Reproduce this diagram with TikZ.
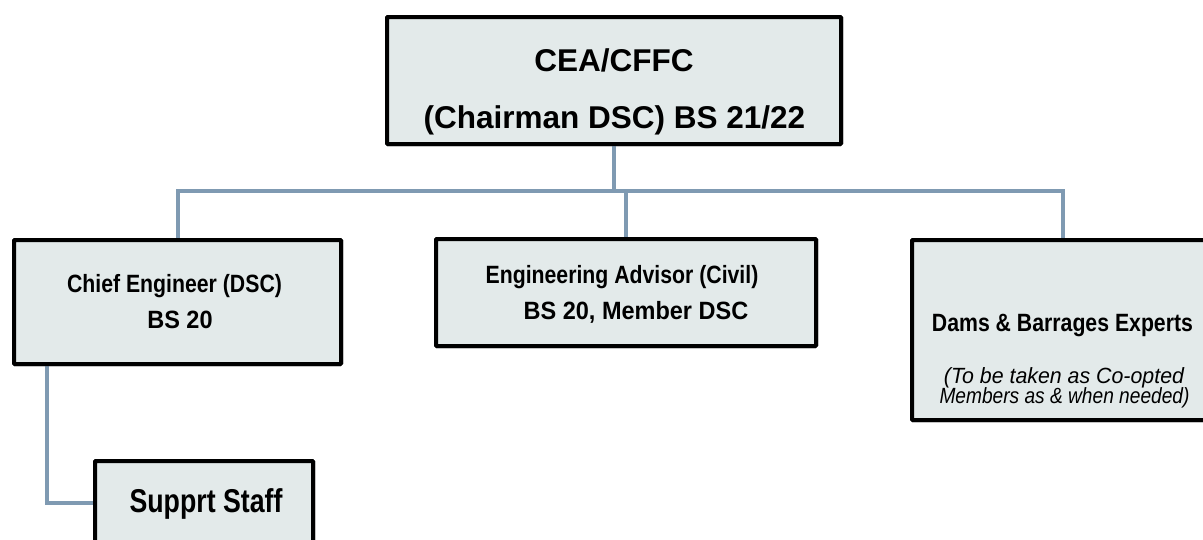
\documentclass[tikz,border=0pt]{standalone}
\usepackage{fontspec}
\setmainfont{Liberation Sans}
\newfontfamily\narA{Liberation Sans}[FakeStretch=0.85]
\newfontfamily\narB{Liberation Sans}[FakeStretch=0.94]
\newfontfamily\narI{Liberation Sans}[FakeStretch=0.87]
\newfontfamily\narJ{Liberation Sans}[FakeStretch=0.97]
\newfontfamily\narS{Liberation Sans}[FakeStretch=0.81]
\definecolor{boxfill}{RGB}{227,234,234}
\definecolor{conncol}{RGB}{127,154,178}
\tikzset{
  orgbox/.style={draw=black, line width=4pt, fill=boxfill, inner sep=0pt, rounded corners=1pt},
  conn/.style={draw=conncol, line width=4pt},
  txt/.style={anchor=base, inner sep=0pt, text=black},
}
\begin{document}
\begin{tikzpicture}[x=1pt,y=-1pt]
\clip (0,0) rectangle (1203,539);
\fill[white] (0,0) rectangle (1203,539);
% boxes
\node[orgbox, minimum width=454pt, minimum height=127pt] (top) at (614,80.5) {};
\node[orgbox, minimum width=327pt, minimum height=124pt] (ce) at (177.5,302) {};
\node[orgbox, minimum width=380pt, minimum height=107pt] (ea) at (626,292.5) {};
\node[orgbox, minimum width=302pt, minimum height=180pt] (dam) at (1063,330) {};
\node[orgbox, minimum width=218pt, minimum height=84pt] (sup) at (204,503) {};
\coordinate (bus) at (614,191);
\coordinate (k) at (47,503);
% connectors
\draw[conn] (top.south) -- (bus);
\draw[conn] (ce.north) |- (bus) -| (dam.north);
\draw[conn] (ea.north) -- (ea.north |- bus);
\draw[conn] (ce.south -| k) |- (sup.west);
% redraw boxes on top of connectors
\node[orgbox, minimum width=454pt, minimum height=127pt] at (614,80.5) {};
\node[orgbox, minimum width=327pt, minimum height=124pt] at (177.5,302) {};
\node[orgbox, minimum width=380pt, minimum height=107pt] at (626,292.5) {};
\node[orgbox, minimum width=302pt, minimum height=180pt] at (1063,330) {};
\node[orgbox, minimum width=218pt, minimum height=84pt] at (204,503) {};
% texts
\node[txt, font=\fontsize{31.5}{31.5}\selectfont\bfseries] (t1) at (614,71) {CEA/CFFC};
\node[txt, font=\fontsize{31.5}{31.5}\selectfont\bfseries] (t2) at (614.5,128) {(Chairman DSC) BS 21/22};
\node[txt, font=\fontsize{25}{25}\narA\bfseries] (c1) at (174.5,292) {Chief Engineer (DSC)};
\node[txt, font=\fontsize{25}{25}\narB\bfseries] (c2) at (180,328) {BS 20};
\node[txt, font=\fontsize{25}{25}\narA\bfseries] (e1) at (622,283) {Engineering Advisor (Civil)};
\node[txt, font=\fontsize{25}{25}\narB\bfseries] (e2) at (636,319) {BS 20, Member DSC};
\node[txt, font=\fontsize{25}{25}\narA\bfseries] (d1) at (1062.5,331) {Dams \& Barrages Experts};
\node[txt, font=\fontsize{22}{22}\narJ\itshape] (d2) at (1064,383) {(To be taken as Co-opted};
\node[txt, font=\fontsize{22}{22}\narI\itshape] (d3) at (1064.5,403) {Members as \& when needed)};
\node[txt, font=\fontsize{33}{33}\narS\bfseries] (s1) at (206,512) {Supprt Staff};
\end{tikzpicture}
\end{document}
